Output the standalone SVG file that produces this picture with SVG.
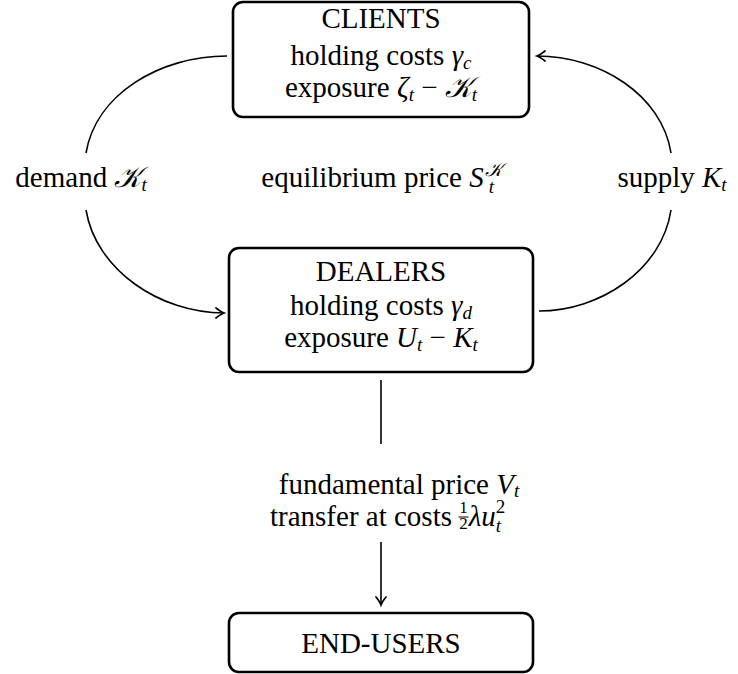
<svg xmlns="http://www.w3.org/2000/svg" width="738" height="674" viewBox="0 0 738 674">
<style>
  text { font-family: "Liberation Serif", "DejaVu Serif", serif; font-size: 29px; fill: #000; }
  .c { text-anchor: middle; }
  .i { font-style: italic; }
  .s { font-size: 19px; font-style: italic; }
  .n { font-size: 17px; font-style: normal; }
  .box { fill: #fff; stroke: #000; stroke-width: 2.6; }
  .ln { fill: none; stroke: #000; stroke-width: 1.6; }
</style>
<defs>
  <marker id="arr" viewBox="-10 -6 12 12" refX="0" refY="0" markerWidth="12" markerHeight="12" markerUnits="userSpaceOnUse" orient="auto">
    <path d="M-8,-5 Q-3,-1 0,0 Q-3,1 -8,5" fill="none" stroke="#000" stroke-width="1.7" stroke-linecap="round"/>
  </marker>
</defs>
<g id="connectors">
  <path class="ln" d="M227,56 C160,56 96,94 86,153"/>
  <path class="ln" d="M86,210 C96,270 160,313 224,313" marker-end="url(#arr)"/>
  <path class="ln" d="M671,153 C662,95 600,56 537,56" marker-end="url(#arr)"/>
  <path class="ln" d="M671,210 C662,270 600,311 539,311"/>
  <line class="ln" x1="381" y1="380" x2="381" y2="444"/>
  <line class="ln" x1="381" y1="542" x2="381" y2="605" marker-end="url(#arr)"/>
</g>
<g id="clients">
  <rect class="box" x="233" y="2" width="296" height="115" rx="10"/>
  <text class="c" x="381" y="28">CLIENTS</text>
  <text class="c" x="381" y="65">holding costs <tspan class="i">γ</tspan><tspan class="s" dy="4">c</tspan></text>
  <text class="c" x="381" y="97">exposure <tspan class="i">ζ</tspan><tspan class="s" dy="4">t</tspan><tspan dy="-4"> − </tspan><tspan class="i">𝒦</tspan><tspan class="s" dy="4">t</tspan></text>
</g>
<g id="dealers">
  <rect class="box" x="229" y="248" width="304" height="124" rx="10"/>
  <text class="c" x="381" y="281">DEALERS</text>
  <text class="c" x="381" y="315">holding costs <tspan class="i">γ</tspan><tspan class="s" dy="4">d</tspan></text>
  <text class="c" x="381" y="347">exposure <tspan class="i">U</tspan><tspan class="s" dy="4">t</tspan><tspan dy="-4"> − </tspan><tspan class="i">K</tspan><tspan class="s" dy="4">t</tspan></text>
</g>
<g id="end-users">
  <rect class="box" x="229" y="613" width="304" height="59" rx="10"/>
  <text class="c" x="381" y="653">END-USERS</text>
</g>
<g id="labels">
  <text class="c" x="81" y="187">demand <tspan class="i">𝒦</tspan><tspan class="s" dy="4">t</tspan></text>
  <text class="c" x="382" y="187">equilibrium price <tspan class="i">S</tspan><tspan class="s" dx="1" dy="-11">𝒦</tspan><tspan class="s" dx="-14" dy="17">t</tspan></text>
  <text class="c" x="672" y="187">supply <tspan class="i">K</tspan><tspan class="s" dy="4">t</tspan></text>
  <text class="c" x="399" y="494">fundamental price <tspan class="i">V</tspan><tspan class="s" dy="3">t</tspan></text>
  <text x="270" y="526">transfer at costs <tspan class="n" dy="-13">1</tspan><tspan class="n" dx="-8.5" dy="16">2</tspan><tspan class="i" dx="1" dy="-3">λu</tspan><tspan class="s" style="font-style:normal" dy="-13">2</tspan><tspan class="s" dx="-9.5" dy="19">t</tspan></text>
  <line x1="458.5" y1="517" x2="468.5" y2="517" stroke="#000" stroke-width="1"/>
</g>
</svg>
